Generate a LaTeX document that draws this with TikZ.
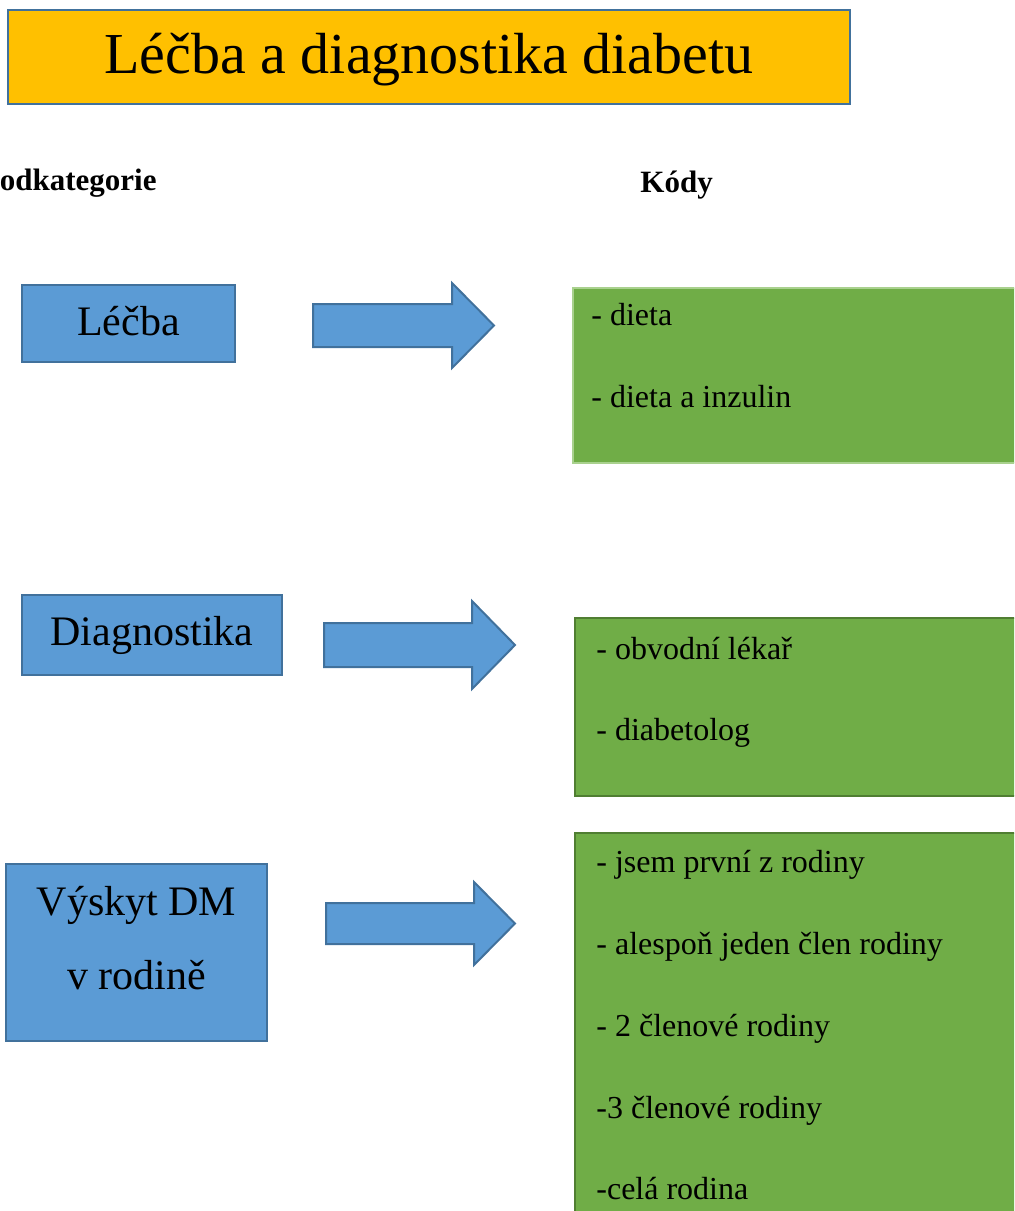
\documentclass[tikz,border=0pt]{standalone}
\usepackage{fontspec}
\setmainfont{Liberation Serif}
\usetikzlibrary{positioning}
\definecolor{ttgold}{HTML}{FFC000}
\definecolor{catblue}{HTML}{5B9BD5}
\definecolor{edgeblue}{HTML}{41719C}
\definecolor{codegreen}{HTML}{70AD47}
\definecolor{edgegreen}{HTML}{507E32}
\definecolor{lightgreen}{HTML}{A9D18E}

\begin{document}
\begin{tikzpicture}[x=0.5pt, y=-0.5pt,
  titlebox/.style={rectangle, draw=edgeblue, line width=1.2pt, fill=ttgold,
    inner sep=0pt, minimum width=421pt, font=\fontsize{29}{34}\selectfont,
    text height=31.5pt, text depth=15.5pt},
  catbox/.style={rectangle, draw=edgeblue, line width=1pt, fill=catblue,
    inner sep=0pt, align=center, font=\fontsize{21}{37}\selectfont},
  codebox/.style={rectangle, draw=edgegreen, line width=1pt, fill=codegreen,
    anchor=north west, inner sep=0pt},
  codetext/.style={anchor=base west, inner sep=0pt, font=\fontsize{16}{19}\selectfont},
  colhead/.style={inner sep=0pt, font=\bfseries\fontsize{15.5}{18}\selectfont},
  blockarr/.style={draw=edgeblue, line width=1pt, fill=catblue, line join=miter},
]

% Page frame
\useasboundingbox (0,0) rectangle (1014,1211);
\clip (0,0) rectangle (1014,1211);

\node[titlebox] (title) at (429,57) {Léčba a diagnostika diabetu};

\node[colhead, anchor=base east] (podkat) at (157,190) {Podkategorie};
\node[colhead, anchor=base west] (kody) at (640,192) {Kódy};

% Subcategories
\node[catbox, minimum width=106.5pt, text height=25pt, text depth=13.5pt]
  (lecba) at (128.5,323.5) {Léčba};
\node[catbox, minimum width=130pt, text height=25pt, text depth=15pt]
  (diag) at (152,635) {Diagnostika};
\node[catbox, minimum width=130.5pt, text height=62.5pt, text depth=26pt]
  (vyskyt) at (136.5,952.5) {Výskyt DM\\v rodině};

% Block arrows
\draw[blockarr] (313,304) -- (452,304) -- (452,283) -- (494,325.5)
  -- (452,368) -- (452,347) -- (313,347) -- cycle;
\draw[blockarr] (324,623) -- (472,623) -- (472,601) -- (515,645)
  -- (472,689) -- (472,667) -- (324,667) -- cycle;
\draw[blockarr] (326,903) -- (474,903) -- (474,882) -- (515,923.5)
  -- (474,965) -- (474,944) -- (326,944) -- cycle;

% Codes
\node[codebox, draw=lightgreen, minimum width=229pt, minimum height=87.5pt]
  (codes1) at (572,287) {};
\node[codetext] (c1a) at (591,325) {- dieta};
\node[codetext] (c1b) at (591,407) {- dieta a inzulin};

\node[codebox, minimum width=229pt, minimum height=89pt] (codes2) at (574,617) {};
\node[codetext] (c2a) at (596,659) {- obvodní lékař};
\node[codetext] (c2b) at (596,740) {- diabetolog};

\node[codebox, minimum width=229pt, minimum height=210pt] (codes3) at (574,832) {};
\node[codetext] (c3a) at (596,872) {- jsem první z rodiny};
\node[codetext] (c3b) at (596,954) {- alespoň jeden člen rodiny};
\node[codetext] (c3c) at (596,1036) {- 2 členové rodiny};
\node[codetext] (c3d) at (596,1118) {-3 členové rodiny};
\node[codetext] (c3e) at (596,1199) {-celá rodina};
\end{tikzpicture}
\end{document}
